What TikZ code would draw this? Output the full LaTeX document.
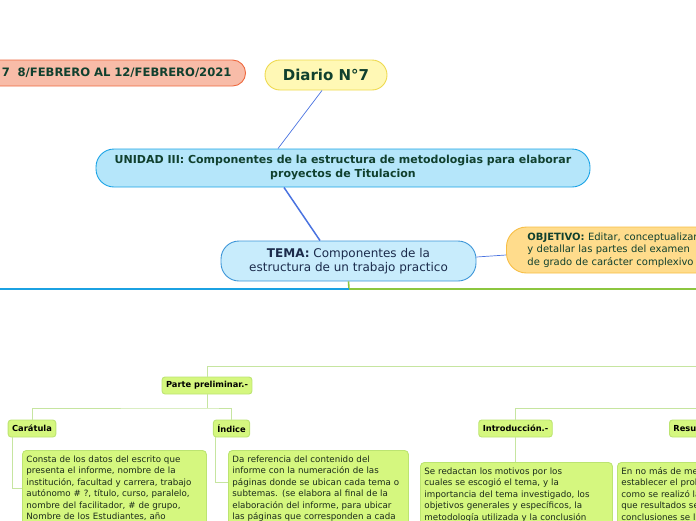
\documentclass[tikz,border=0pt]{standalone}
\usepackage{fontspec}
\setmainfont{DejaVu Sans}
\usepackage{xcolor}
\usetikzlibrary{positioning}

\definecolor{datefill}{HTML}{F8BCA8}
\definecolor{dateline}{HTML}{EE6A40}
\definecolor{diariofill}{HTML}{FFF8B5}
\definecolor{diarioline}{HTML}{EED94E}
\definecolor{unidadfill}{HTML}{B5E6FA}
\definecolor{unidadline}{HTML}{1AA3E6}
\definecolor{temafill}{HTML}{C8ECFC}
\definecolor{temaline}{HTML}{3D96D8}
\definecolor{objfill}{HTML}{FFDC8C}
\definecolor{objline}{HTML}{F7BE45}
\definecolor{leaffill}{HTML}{D5F77F}
\definecolor{leafline}{HTML}{BCE471}
\definecolor{twigcol}{HTML}{C6E5A0}
\definecolor{mainblue}{HTML}{1BA1E2}
\definecolor{maingreen}{HTML}{8CC63F}
\definecolor{linkblue}{HTML}{4A73E0}
\definecolor{darkgreen}{HTML}{10402E}
\definecolor{navy}{HTML}{1B2B4B}
\definecolor{notetext}{HTML}{1A2A1A}

\begin{document}
\begin{tikzpicture}[x=1pt, y=-1pt,
	pill/.style={draw, line width=0.9pt, inner sep=0pt, align=center},
	leaf/.style={draw=leafline, fill=leaffill, rounded corners=3pt, line width=0.9pt, font=\fontsize{8.3}{10}\selectfont\bfseries, inner xsep=4pt, inner ysep=0pt, minimum height=17pt},
	note/.style={draw=leafline, fill=leaffill, rounded corners=4pt, line width=0.9pt, font=\fontsize{8.7}{11.5}\selectfont, text=notetext, align=left, anchor=north west, inner xsep=4pt, inner ysep=5pt},
	twig/.style={draw=twigcol, line width=0.9pt}]

	\useasboundingbox (0,0) rectangle (696,520);
	\clip (0,0) rectangle (696,520);

	% cabecera
	\node[pill, draw=dateline, fill=datefill, rounded corners=13pt, minimum height=26pt, text width=280pt, align=right, inner xsep=14pt, anchor=east, font=\fontsize{11.6}{13}\selectfont\bfseries, text=darkgreen] (fecha) at (246,73) {7\ \ 8/FEBRERO AL 12/FEBRERO/2021};
	\node[pill, draw=diarioline, fill=diariofill, rounded corners=15pt, minimum width=122pt, minimum height=30pt, font=\fontsize{15}{17}\selectfont\bfseries, text=darkgreen] (diario) at (326,75) {Diario N°7};
	\node[pill, draw=unidadline, fill=unidadfill, rounded corners=18pt, minimum width=494pt, minimum height=38pt, font=\fontsize{11}{14}\selectfont\bfseries, text=darkgreen] (unidad) at (343,168) {UNIDAD III: Componentes de la estructura de metodologias para elaborar\\proyectos de Titulacion};
	\node[pill, draw=temaline, fill=temafill, rounded corners=18pt, minimum width=255pt, minimum height=40pt, font=\fontsize{12}{14}\selectfont, text=navy] (tema) at (348.5,261) {\textbf{TEMA:} Componentes de la\\estructura de un trabajo practico};
	\node[pill, draw=objline, fill=objfill, rounded corners=20pt, minimum height=46pt, text width=220pt, align=left, inner xsep=21pt, anchor=west, font=\fontsize{10}{12.5}\selectfont, text=darkgreen] (objetivo) at (506,250) {\textbf{OBJETIVO:} Editar, conceptualizar\\y detallar las partes del examen\\de grado de carácter complexivo};

	\draw[linkblue, line width=0.7pt] ([xshift=-4pt]diario.south) -- ([xshift=-65pt]unidad.north);
	\draw[linkblue, line width=1.5pt] ([xshift=-59pt]unidad.south) -- ([xshift=-28.5pt]tema.north);
	\draw[linkblue, line width=0.7pt] ([yshift=4pt]tema.east) -- ([yshift=-5pt]objetivo.west);

	% ramas principales
	\coordinate (hub) at (349,289);
	\coordinate (izq) at (-5,289);
	\coordinate (der) at (701,289);
	\draw[maingreen, line width=1.6pt] (tema.south) -- (hub);
	\draw[mainblue, line width=1.6pt] (izq) -- (hub);
	\draw[maingreen, line width=1.6pt] (hub) -- (der);

	% parte preliminar
	\node[leaf] (parte) at (207,385.5) {Parte preliminar.-};
	\node[leaf] (caratula) at (32,428.5) {Carátula};
	\node[leaf] (indice) at (231.5,428.5) {Índice};
	\node[leaf] (intro) at (515.5,428.5) {Introducción.-};
	\node[leaf, anchor=west] (resumen) at (669,428.5) {Resumen.-};

	\coordinate (ramaA) at (701,366);
	\coordinate (nudoP) at (207,408);
	\coordinate (nudoB) at (650,408);
	\coordinate (ramaB) at (701,408);
	\draw[twig] (parte.north) |- (ramaA);
	\draw[twig] (parte.south) -- (nudoP);
	\draw[twig] (caratula.north) |- (nudoP) -| (indice.north);
	\draw[twig] (intro.north) |- (ramaB);
	\draw[twig] (resumen.north) |- (nudoB);

	% notas
	\node[note, text width=176pt] (notaC) at (22,450) {Consta de los datos del escrito que\\presenta el informe, nombre de la\\institución, facultad y carrera, trabajo\\autónomo \# ?, título, curso, paralelo,\\nombre del facilitador, \# de grupo,\\Nombre de los Estudiantes, año};
	\node[note, text width=172pt] (notaI) at (228,450) {Da referencia del contenido del\\informe con la numeración de las\\páginas donde se ubican cada tema o\\subtemas. (se elabora al final de la\\elaboración del informe, para ubicar\\las páginas que corresponden a cada};
	\node[note, text width=184pt] (notaIn) at (420,462) {Se redactan los motivos por los\\cuales se escogió el tema, y la\\importancia del tema investigado, los\\objetivos generales y específicos, la\\metodología utilizada y la conclusión};
	\node[note, text width=184pt] (notaR) at (617,462) {En no más de media página,\\establecer el problema,\\como se realizó la investigación,\\que resultados se obtuvieron,\\conclusiones se llegaron};

	\coordinate (cC) at (22,488);
	\coordinate (cI) at (228,482);
	\draw[twig] ([xshift=-20pt]caratula.south) |- (cC);
	\draw[twig] ([xshift=-16.5pt]indice.south) |- (cI);
	\draw[twig] (intro.south) -- (intro.south |- notaIn.north);

\end{tikzpicture}
\end{document}
